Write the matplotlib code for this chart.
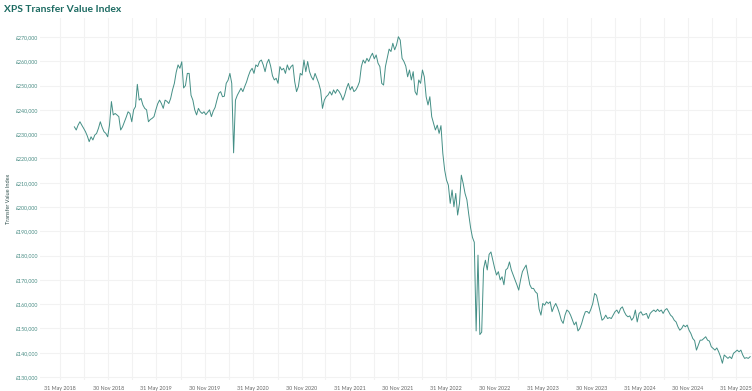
import pandas as pd
import numpy as np
import matplotlib.pyplot as plt
import matplotlib.dates as mdates
import matplotlib.ticker as mticker

# >>>>>>>>>>>>>  data: weekly readings of the index, in £ thousands  <<<<<<<<<<<<< #

start_date = '2018-07-25'

index_k = [
    233.0, 231.7, 233.7, 235.1, 233.7, 232.4, 231.0, 229.2, 226.9, 228.9,
    227.6, 229.6, 230.3, 232.4, 235.1, 232.8, 231.0, 230.3, 228.9, 234.0,
    243.4, 237.9, 238.5, 237.9, 237.2, 231.7, 233.0, 235.0, 237.0, 239.2,
    238.5, 235.1, 240.0, 241.3, 250.5, 244.0, 244.7, 242.0, 240.6, 240.0,
    235.1, 236.0, 236.5, 237.2, 240.0, 242.5, 244.0, 242.6, 240.6, 244.0,
    243.5, 242.6, 244.7, 248.2, 250.9, 255.5, 258.5, 257.1, 259.8, 249.0,
    250.0, 255.0, 255.0, 246.0, 244.0, 240.0, 237.9, 240.6, 239.2, 238.5,
    239.2, 238.0, 239.0, 240.0, 237.2, 239.5, 241.0, 244.0, 246.8, 247.5,
    245.4, 245.6, 250.9, 252.2, 255.0, 250.9, 222.3, 244.0, 246.0, 247.5,
    248.9, 247.5, 249.6, 251.5, 254.0, 256.0, 257.1, 255.0, 258.5, 257.8,
    259.9, 260.5, 258.5, 255.7, 259.2, 260.8, 258.0, 254.0, 252.3, 253.0,
    250.9, 257.8, 256.4, 257.1, 255.0, 258.5, 256.4, 257.8, 258.5, 251.6,
    247.5, 249.6, 255.0, 254.3, 260.5, 255.7, 259.9, 255.7, 253.6, 252.3,
    255.0, 253.0, 250.9, 248.0, 240.6, 244.0, 245.4, 246.1, 247.5, 246.1,
    248.2, 246.8, 248.4, 247.5, 246.1, 244.0, 246.1, 248.9, 250.9, 248.2,
    249.6, 247.5, 248.2, 249.6, 251.6, 257.8, 260.5, 259.2, 261.2, 259.9,
    261.9, 263.3, 261.0, 262.6, 259.2, 257.8, 250.9, 250.2, 257.8, 261.5,
    265.0, 264.0, 267.4, 264.7, 266.7, 270.1, 268.7, 261.2, 259.9, 258.0,
    253.6, 256.4, 252.3, 255.7, 247.5, 246.1, 252.3, 250.9, 256.4, 253.6,
    245.4, 242.0, 245.4, 237.2, 234.5, 231.7, 233.7, 230.3, 233.5, 222.1,
    215.2, 211.1, 209.0, 201.5, 207.0, 200.1, 205.6, 196.7, 201.5, 213.1,
    209.7, 205.6, 203.0, 197.0, 191.5, 187.5, 185.5, 149.0, 180.2, 147.5,
    148.5, 174.5, 178.1, 174.1, 180.5, 181.5, 178.1, 174.8, 172.0, 173.4,
    170.0, 171.3, 168.0, 174.1, 174.8, 177.4, 174.1, 172.0, 170.0, 168.0,
    165.8, 170.0, 173.4, 174.8, 176.1, 172.0, 168.0, 166.5, 166.5, 165.1,
    164.4, 158.0, 155.5, 160.3, 159.6, 161.0, 160.3, 161.0, 156.9, 158.9,
    160.3, 158.5, 156.2, 153.4, 152.1, 155.5, 157.6, 157.0, 155.5, 153.5,
    151.5, 152.7, 149.0, 150.0, 152.1, 154.8, 156.9, 157.0, 156.2, 158.0,
    160.3, 164.4, 163.7, 160.3, 156.9, 153.4, 154.1, 155.5, 154.1, 154.5,
    154.1, 155.5, 156.9, 157.6, 156.2, 158.2, 158.9, 156.9, 155.5, 154.8,
    155.2, 153.4, 154.5, 157.6, 152.7, 156.2, 156.9, 155.5, 155.8, 156.2,
    154.1, 156.2, 157.0, 157.6, 156.9, 157.9, 157.0, 157.6, 156.2, 157.6,
    158.2, 156.9, 155.5, 154.8, 153.4, 152.7, 150.7, 149.3, 150.0, 151.4,
    150.7, 151.4, 149.3, 147.9, 145.9, 145.0, 141.1, 143.2, 145.2, 145.2,
    145.9, 146.6, 145.2, 144.8, 142.5, 141.8, 141.1, 142.0, 140.4, 138.4,
    135.7, 139.1, 138.4, 137.7, 138.4, 137.6, 139.8, 140.4, 141.1, 140.4,
    141.1, 139.1, 137.7, 138.0, 137.7, 138.4,
]

y_ticks = np.arange(130000, 270001, 10000)

# >>>>>>>>>>>>>  styling  <<<<<<<<<<<<< #

LineColor = '#448f86'
TitleColor = '#1b6a61'
GridColor = '#f2f2f2'

plt.rcParams['font.family'] = ['Lato', 'DejaVu Sans']

dates = pd.date_range(start_date, periods=len(index_k), freq='7D')
values = np.array(index_k) * 1000

fig1 = plt.figure(figsize=(7.52, 3.91), dpi=100)
ax1 = fig1.add_axes([40/752, 11/391, 712/752, 362/391])

ax1.plot(dates, values, color=LineColor, linewidth=0.7)

# x axis: labels every 6 months, grid every 3 months
major_x = pd.date_range('2018-05-31', '2025-05-31', freq='6ME')
minor_x = pd.date_range('2018-02-28', '2025-08-31', freq='3ME')
ax1.set_xticks(major_x)
ax1.set_xticks(minor_x, minor=True)
ax1.xaxis.set_major_formatter(mdates.DateFormatter('%d %b %Y'))
ax1.set_xlim(pd.Timestamp('2018-03-17'), pd.Timestamp('2025-07-30'))

ax1.set_yticks(y_ticks)
ax1.yaxis.set_major_formatter(mticker.FuncFormatter(lambda v, p: '£{:,.0f}'.format(v)))
ax1.set_ylim(128800, 277800)

ax1.tick_params(axis='x', which='both', length=0, labelsize=3.9, colors='#666666', pad=4)
ax1.tick_params(axis='y', which='both', length=0, labelsize=3.8, colors='#4a8d85', pad=1.5)

ax1.grid(which='both', color=GridColor, linewidth=0.8)
ax1.set_axisbelow(True)
for s in ax1.spines.values():
    s.set_visible(False)

ax1.set_ylabel('Transfer Value Index', fontsize=4.0, color='#2f4f4c')
ax1.yaxis.set_label_coords(-29/712, 0.5)

fig1.text(4/752, 1 - 9/391, 'XPS Transfer Value Index', fontsize=7.4, fontweight='bold',
          color=TitleColor, ha='left', va='center')

fig1.savefig('out.png', dpi=100)
